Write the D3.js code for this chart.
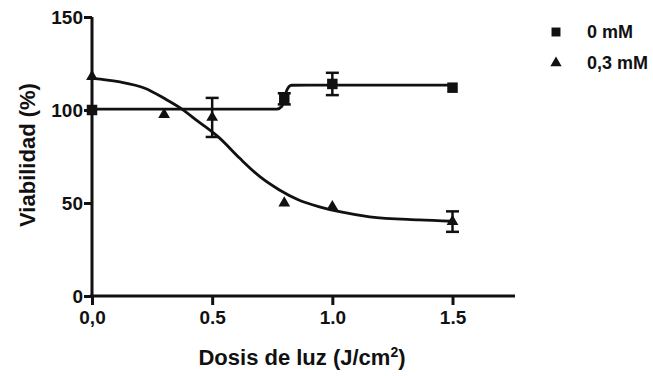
<!DOCTYPE html>
<html><head><meta charset="utf-8">
<script src="https://cdn.jsdelivr.net/npm/d3@7"></script>
<style>
body{margin:0;background:#fff;}
text{font-family:"Liberation Sans",Arial,sans-serif;font-weight:bold;fill:#111;}
</style></head>
<body><svg id="c" width="653" height="376"></svg>
<script>
// Data
const xTicks = [0, 0.5, 1.0, 1.5];
const xTickLabels = ["0,0", "0.5", "1.0", "1.5"];
const yTicks = [0, 50, 100, 150];
const seriesNames = ["0 mM", "0,3 mM"];

const sq_x   = [0, 0.8, 1.0, 1.5];
const sq_y   = [100, 106, 114, 112];
const sq_err = [0, 3, 6, 0];

const tri_x   = [0, 0.3, 0.5, 0.8, 1.0, 1.5];
const tri_y   = [118, 97.5, 96, 50, 48, 40];
const tri_err = [0, 0, 10.5, 0, 0, 5.5];

// fitted curves, read as points from the picture
const sqFit_x = [0, 0.5, 0.77, 0.79, 0.80, 0.81, 0.83, 0.9, 1.2, 1.5];
const sqFit_y = [100.5, 100.5, 100.5, 102, 106, 110.5, 113.3, 113.4, 113.4, 113.4];
const triFit_x = [0, 0.11, 0.22, 0.30, 0.37, 0.44, 0.53, 0.615, 0.70, 0.78, 0.86, 0.95, 1.03, 1.155, 1.36, 1.5];
const triFit_y = [117, 115.2, 111.7, 106.3, 100.9, 94, 85, 74, 64, 57, 51.6, 47.8, 45.3, 42.6, 40.9, 40.2];

const svg = d3.select("#c");
const x = d3.scaleLinear().domain([0, 1.76]).range([92, 515]);
const y = d3.scaleLinear().domain([0, 150]).range([296, 17]);
const ink = "#111";

// axes
const xAxis = svg.append("g").attr("transform", "translate(0,296)")
  .call(d3.axisBottom(x).tickValues(xTicks).tickFormat((d,i)=>xTickLabels[i]).tickSize(9).tickSizeOuter(0).tickPadding(6));
const yAxis = svg.append("g").attr("transform", "translate(92,0)")
  .call(d3.axisLeft(y).tickValues(yTicks).tickSize(8).tickSizeOuter(0).tickPadding(1));
[xAxis, yAxis].forEach(g => {
  g.select(".domain").attr("stroke", ink).attr("stroke-width", 3);
  g.selectAll(".tick line").attr("stroke", ink).attr("stroke-width", 3);
  g.selectAll(".tick text").style("font-size", "19px").attr("fill", ink)
    .style("font-family", "'Liberation Sans',Arial,sans-serif").style("font-weight", "bold");
});
xAxis.select(".domain").attr("d", `M${x(0)-2},0H${x(1.76)}`);
yAxis.select(".domain").attr("d", `M0,${y(150)}V${y(0)+1}`);
yAxis.selectAll(".tick text").attr("dy", "0.36em");

// titles
svg.append("text").attr("x", 302).attr("y", 365).attr("text-anchor", "middle")
  .style("font-size", "22px")
  .html('Dosis de luz (J/cm<tspan dy="-8" style="font-size:14px">2</tspan><tspan dy="8">)</tspan>');
svg.append("text").attr("transform", "translate(35,155) rotate(-90)").attr("text-anchor", "middle")
  .style("font-size", "22px").text("Viabilidad (%)");

// fit lines
const line = d3.line().x(d => x(d[0])).y(d => y(d[1])).curve(d3.curveMonotoneX);
svg.append("path").datum(sqFit_x.map((v,i)=>[v, sqFit_y[i]]))
  .attr("d", line).attr("fill", "none").attr("stroke", ink).attr("stroke-width", 2.8);
svg.append("path").datum(triFit_x.map((v,i)=>[v, triFit_y[i]]))
  .attr("d", line).attr("fill", "none").attr("stroke", ink).attr("stroke-width", 2.8);

// error bars
function errBars(xs, ys, es) {
  const g = svg.append("g").attr("stroke", ink).attr("stroke-width", 2.5);
  xs.forEach((xv, i) => {
    if (!es[i]) return;
    const cx = x(xv), y1 = y(ys[i] + es[i]), y2 = y(ys[i] - es[i]);
    g.append("line").attr("x1", cx).attr("x2", cx).attr("y1", y1).attr("y2", y2);
    g.append("line").attr("x1", cx-6.5).attr("x2", cx+6.5).attr("y1", y1).attr("y2", y1);
    g.append("line").attr("x1", cx-6.5).attr("x2", cx+6.5).attr("y1", y2).attr("y2", y2);
  });
}
errBars(sq_x, sq_y, sq_err);
errBars(tri_x, tri_y, tri_err);

// markers
const sqSym = d3.symbol().type(d3.symbolSquare).size(110);
const triSym = d3.symbol().type(d3.symbolTriangle).size(60);
svg.append("g").selectAll("path").data(sq_x.map((v,i)=>[v, sq_y[i]])).join("path")
  .attr("d", sqSym).attr("transform", d => `translate(${x(d[0])},${y(d[1])})`).attr("fill", ink);
svg.append("g").selectAll("path").data(tri_x.map((v,i)=>[v, tri_y[i]])).join("path")
  .attr("d", triSym).attr("transform", d => `translate(${x(d[0])},${y(d[1])})`).attr("fill", ink);

// legend
const leg = svg.append("g");
leg.append("path").attr("d", d3.symbol().type(d3.symbolSquare).size(80)).attr("transform", "translate(556,32)").attr("fill", ink);
leg.append("path").attr("d", d3.symbol().type(d3.symbolTriangle).size(55)).attr("transform", "translate(556,63)").attr("fill", ink);
leg.append("text").attr("x", 587).attr("y", 38).style("font-size", "18px").text(seriesNames[0]);
leg.append("text").attr("x", 587).attr("y", 69).style("font-size", "18px").text(seriesNames[1]);
</script></body></html>
